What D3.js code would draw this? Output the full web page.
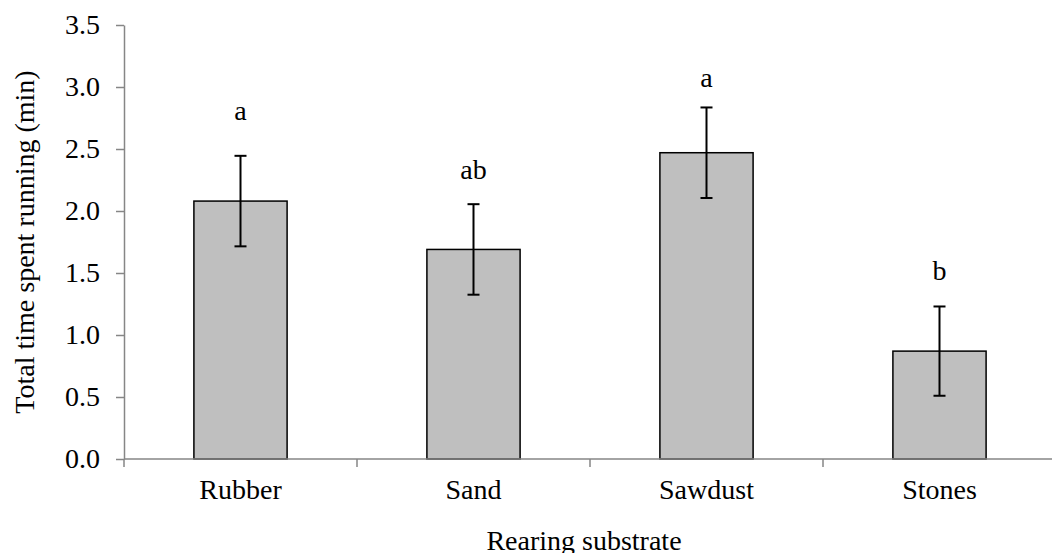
<!DOCTYPE html>
<html><head><meta charset="utf-8">
<script src="https://cdn.jsdelivr.net/npm/d3@7"></script>
<style>body{margin:0;background:#fff}svg{display:block}</style>
</head><body>
<svg id="c" width="1052" height="553"></svg>
<script>
const categories = ["Rubber", "Sand", "Sawdust", "Stones"];
const means = [2.08, 1.69, 2.47, 0.87];
const errors = [0.365, 0.365, 0.365, 0.36];
const letters = ["a", "ab", "a", "b"];
const letterY = [2.73, 2.255, 3.0, 1.445];
const yTicks = [0, 0.5, 1.0, 1.5, 2.0, 2.5, 3.0, 3.5];
const yLabel = "Total time spent running (min)";
const xLabel = "Rearing substrate";

const svg = d3.select("#c");
const font = "'Liberation Serif','Times New Roman',serif";
const axisColor = "#868686";
const mLeft = 124, mRight = 1056, mTop = 25, mBottom = 459;

const x = d3.scaleBand().domain(categories).range([mLeft, mRight]).paddingInner(0.6).paddingOuter(0.3);
const y = d3.scaleLinear().domain([0, 3.5]).range([mBottom, mTop]);

// Y axis
const ya = svg.append("g").attr("transform", `translate(${mLeft},0)`)
  .call(d3.axisLeft(y).tickValues(yTicks).tickFormat(d3.format(".1f")).tickSize(8).tickPadding(16).tickSizeOuter(0));
ya.selectAll("path,line").attr("stroke", axisColor).attr("stroke-width", 1.5);
ya.selectAll("text").attr("font-family", font).attr("font-size", 28).attr("fill", "#000");

// bars
svg.append("g").selectAll("rect").data(categories).join("rect")
  .attr("x", d => x(d)).attr("width", x.bandwidth())
  .attr("y", (d, i) => y(means[i])).attr("height", (d, i) => y(0) - y(means[i]))
  .attr("fill", "#bfbfbf").attr("stroke", "#000").attr("stroke-width", 1.5);

// X axis
const xa = svg.append("g").attr("transform", `translate(0,${mBottom})`);
xa.append("line").attr("x1", mLeft).attr("x2", mRight).attr("y1", 0).attr("y2", 0)
  .attr("stroke", axisColor).attr("stroke-width", 1.5);
const bounds = d3.range(categories.length + 1).map(i => mLeft + i * x.step());
xa.selectAll("line.tk").data(bounds).join("line").attr("class", "tk")
  .attr("x1", d => d).attr("x2", d => d).attr("y1", 0).attr("y2", 8)
  .attr("stroke", axisColor).attr("stroke-width", 1.5);
xa.selectAll("text").data(categories).join("text")
  .attr("x", d => x(d) + x.bandwidth() / 2).attr("y", 40)
  .attr("text-anchor", "middle").attr("font-family", font).attr("font-size", 28).text(d => d);

// error bars
const eb = svg.append("g").attr("stroke", "#000").attr("stroke-width", 2);
categories.forEach((c, i) => {
  const cx = x(c) + x.bandwidth() / 2;
  eb.append("line").attr("x1", cx).attr("x2", cx).attr("y1", y(means[i] + errors[i])).attr("y2", y(means[i] - errors[i]));
  [means[i] + errors[i], means[i] - errors[i]].forEach(v => {
    eb.append("line").attr("x1", cx - 6).attr("x2", cx + 6).attr("y1", y(v)).attr("y2", y(v));
  });
});

// letters
svg.append("g").selectAll("text").data(categories).join("text")
  .attr("x", d => x(d) + x.bandwidth() / 2).attr("y", (d, i) => y(letterY[i]))
  .attr("text-anchor", "middle").attr("font-family", font).attr("font-size", 28).text((d, i) => letters[i]);

// axis titles
svg.append("text").attr("transform", `translate(34,${(mTop + mBottom) / 2}) rotate(-90)`)
  .attr("text-anchor", "middle").attr("font-family", font).attr("font-size", 28).text(yLabel);
svg.append("text").attr("x", (mLeft + mRight) / 2 - 6).attr("y", 550)
  .attr("text-anchor", "middle").attr("font-family", font).attr("font-size", 28).text(xLabel);
</script>
</body></html>
